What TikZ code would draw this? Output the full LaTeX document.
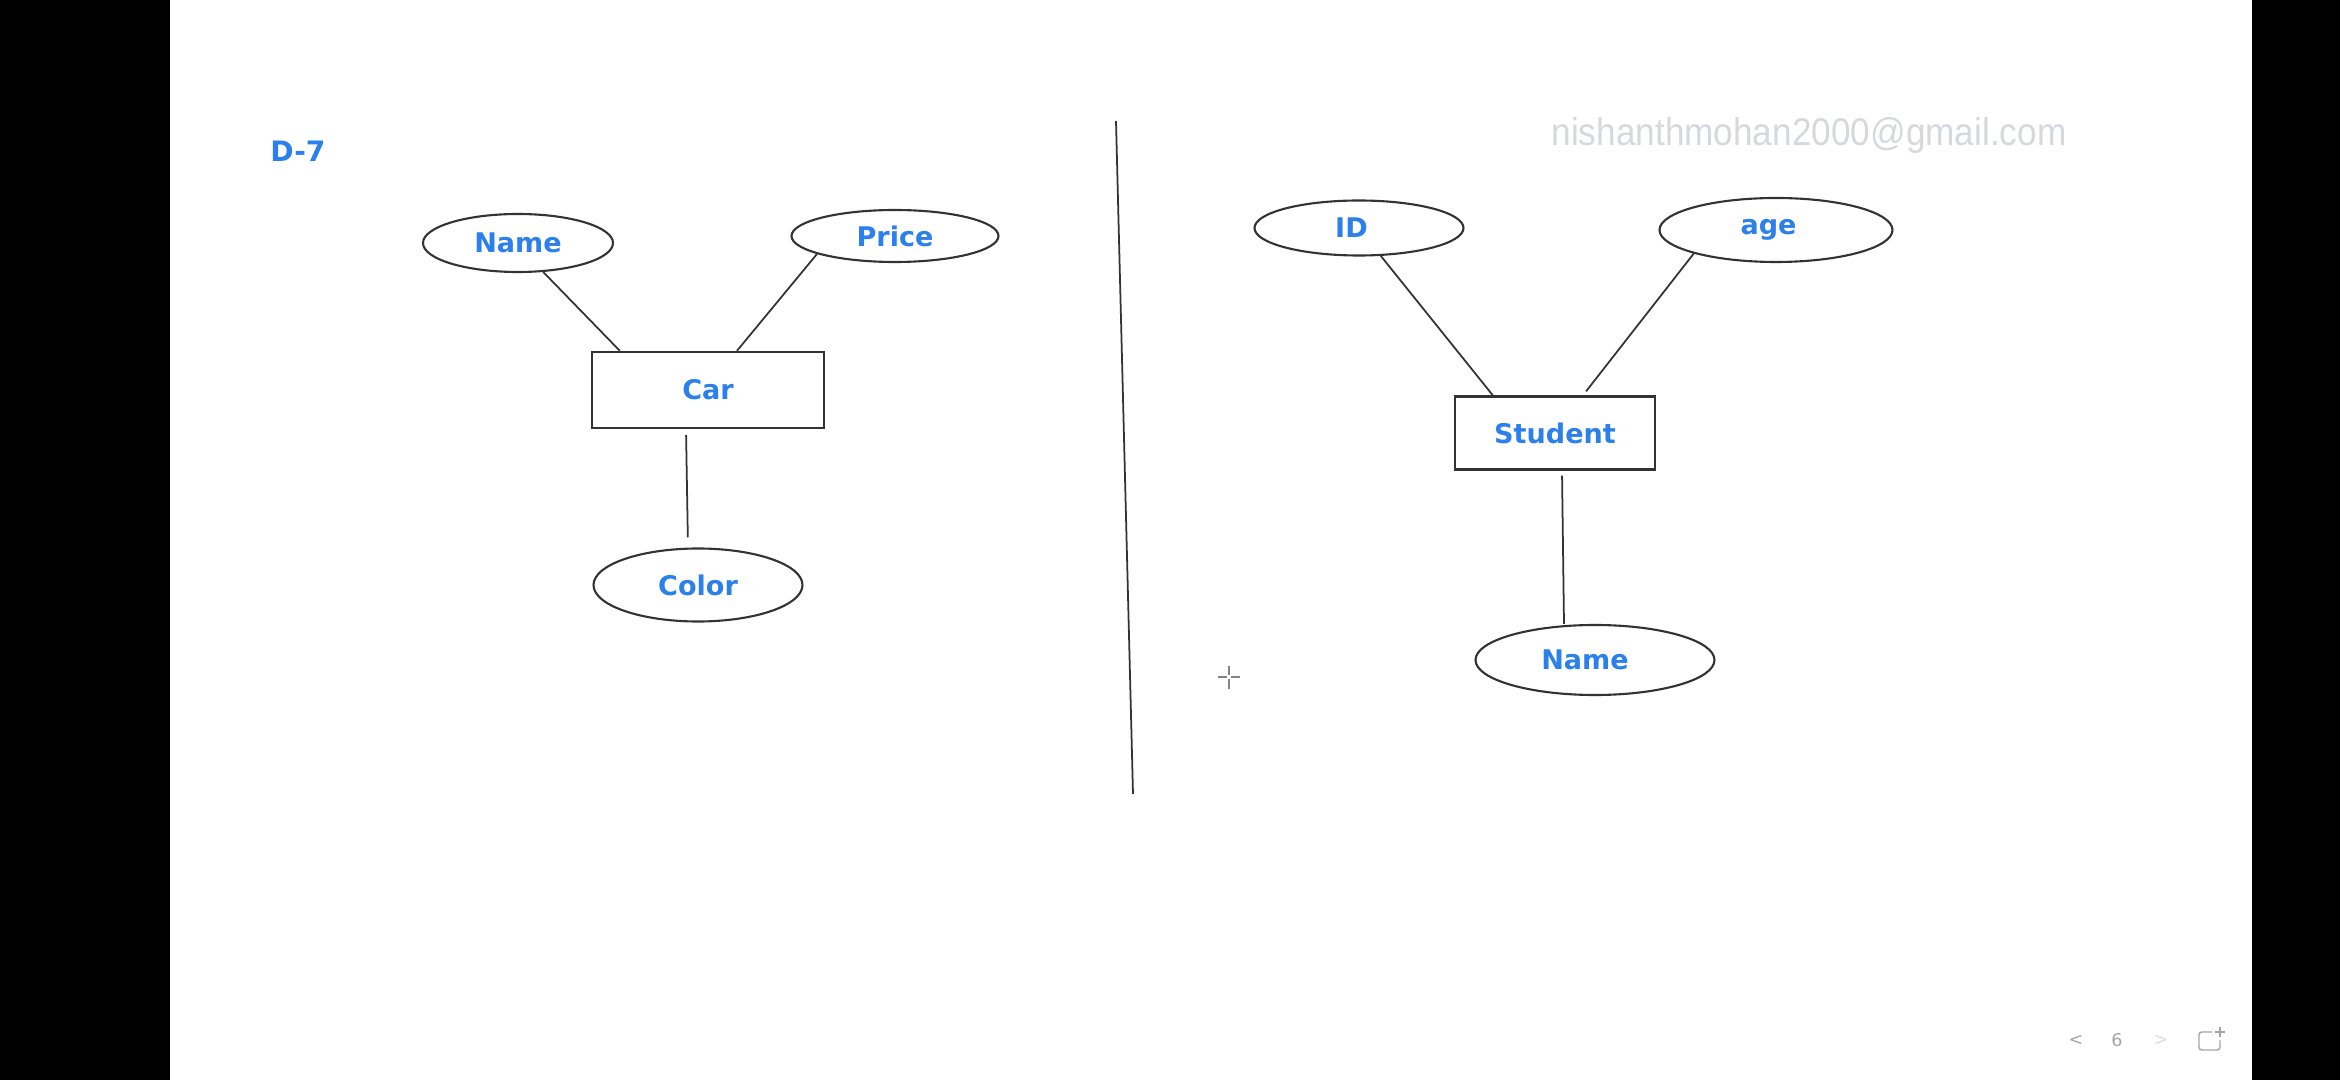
\documentclass[tikz,border=0pt]{standalone}
\usepackage{fontspec}
\setmainfont{DejaVu Sans}
\newfontfamily\mailfont{Liberation Sans}
\usetikzlibrary{calc}
\usetikzlibrary{shapes.geometric}
\definecolor{label-blue}{RGB}{43,128,236}
\definecolor{mail-gray}{RGB}{214,216,222}
\definecolor{nav-gray}{RGB}{165,165,165}
\tikzstyle{attribute}=[draw=black!80,ellipse,line width=0.6pt,inner sep=0pt,text=label-blue,font=\fontsize{7.7}{9}\selectfont\bfseries]
\tikzstyle{entity}=[draw=black!80,rectangle,line width=0.7pt,inner sep=0pt,text=label-blue,font=\fontsize{7.7}{9}\selectfont\bfseries]
\tikzstyle{link}=[black!80,line width=0.5pt]
\tikzstyle{navtext}=[text=nav-gray,inner sep=0pt,font=\fontsize{5}{6}\selectfont]
\newcommand{\attr}[6][0cm]{% [text offset] (name) at (x,y), width, height, text
	\node[attribute,minimum width=#4cm,minimum height=#5cm] (#2) at (#3) {\hspace*{#1}#6};
}

\begin{document}
\begin{tikzpicture}
	\useasboundingbox (0,0) rectangle (23.4,-10.8);
	% screen borders
	\fill[black] (0,0) rectangle (1.70,-10.8);
	\fill[black] (22.52,0) rectangle (23.4,-10.8);
	% heading and watermark
	\node[text=label-blue,inner sep=0pt,font=\fontsize{8}{10}\selectfont\bfseries] (title) at (2.98,-1.51) {D-7};
	\node[text=mail-gray,inner sep=0pt,font=\mailfont\fontsize{11}{13}\selectfont] (mail) at (18.09,-1.36) {\scalebox{0.91}[1]{nishanthmohan2000@gmail.com}};
	% divider
	\draw[link] (11.16,-1.21) -- (11.33,-7.94);
	% left diagram: Car
	\node[entity,minimum width=2.32cm,minimum height=0.76cm] (car) at (7.08,-3.90) {Car};
	\attr{carname}{5.18,-2.43}{1.90}{0.58}{Name}
	\attr{carprice}{8.95,-2.36}{2.07}{0.52}{Price}
	\attr{carcolor}{6.98,-5.85}{2.09}{0.73}{Color}
	\draw[link] (carname.-49) -- ([xshift=0.29cm]car.north west);
	\draw[link] (carprice.193) -- ([xshift=0.29cm]car.north);
	\draw[link,shorten <=0.06cm,shorten >=0.1cm] ([xshift=-0.22cm]car.south) -- ([xshift=-0.1cm]carcolor.north);
	% right diagram: Student
	\node[entity,minimum width=2.00cm,minimum height=0.73cm] (student) at (15.55,-4.33) {Student};
	\attr[-0.15cm]{stuid}{13.59,-2.28}{2.09}{0.55}{ID}
	\attr[-0.15cm]{stuage}{17.76,-2.30}{2.33}{0.64}{age}
	\attr[-0.2cm]{stuname}{15.95,-6.60}{2.39}{0.70}{\raisebox{-0.06cm}{Name}}
	\draw[link] (stuid.-52) -- ([xshift=0.39cm]student.north west);
	\draw[link,shorten >=0.05cm] (stuage.196) -- ([xshift=0.28cm]student.north);
	\draw[link,shorten <=0.05cm] ([xshift=0.07cm]student.south) -- ([xshift=-0.31cm]stuname.north);
	% mouse cursor
	\coordinate (cursor) at (12.29,-6.77);
	\draw[nav-gray!80!black,line width=0.4pt] ([xshift=-0.11cm]cursor) -- ([xshift=-0.02cm]cursor) ([xshift=0.02cm]cursor) -- ([xshift=0.11cm]cursor);
	\draw[nav-gray!80!black,line width=0.4pt] ([yshift=0.11cm]cursor) -- ([yshift=0.02cm]cursor) ([yshift=-0.02cm]cursor) -- ([yshift=-0.12cm]cursor);
	% page navigation
	\node[navtext] (prev) at (20.76,-10.40) {<};
	\node[navtext] (page) at (21.17,-10.40) {6};
	\node[navtext,text=nav-gray!40] (next) at (21.61,-10.40) {>};
	\coordinate (newpage) at (22.10,-10.41);
	\draw[nav-gray,line width=0.4pt,rounded corners=0.8pt] ([shift={(0.02,0.09)}]newpage) -- ([shift={(-0.11,0.09)}]newpage) -- ([shift={(-0.11,-0.09)}]newpage) -- ([shift={(0.10,-0.09)}]newpage) -- ([shift={(0.10,0.01)}]newpage);
	\draw[nav-gray,line width=0.4pt] ([shift={(0.05,0.09)}]newpage) -- ([shift={(0.15,0.09)}]newpage) ([shift={(0.10,0.04)}]newpage) -- ([shift={(0.10,0.14)}]newpage);
\end{tikzpicture}
\end{document}
